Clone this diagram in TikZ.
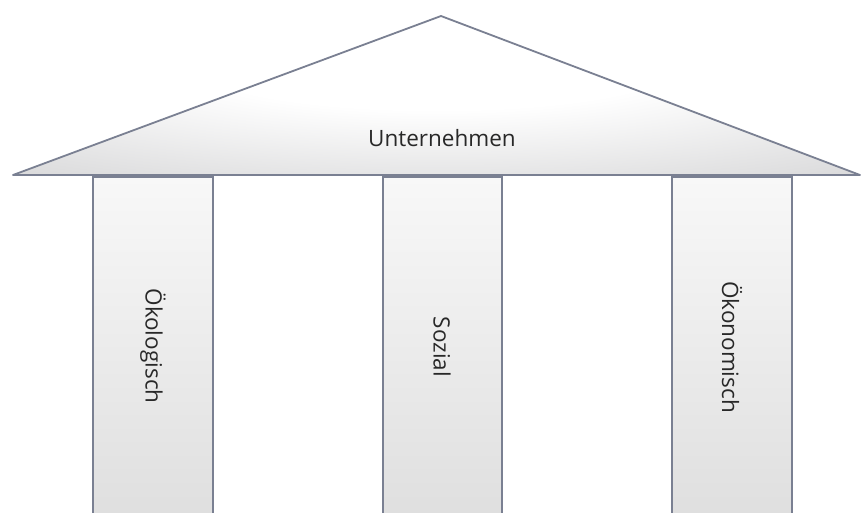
\documentclass[tikz,border=0pt]{standalone}
\usepackage{fontspec}
\setmainfont{Open Sans}
\definecolor{edgec}{RGB}{122,128,146}
\definecolor{txtc}{RGB}{40,40,40}
\definecolor{roofout}{RGB}{176,176,178}
\definecolor{roofmid}{RGB}{220,220,221}
\definecolor{piltop}{RGB}{248,248,248}
\definecolor{pilbot}{RGB}{222,222,222}
\pgfdeclareradialshading{roofshade}{\pgfpoint{0bp}{12bp}}{color(0bp)=(white); color(14bp)=(white); color(38bp)=(roofmid); color(70bp)=(roofout)}
\begin{document}
\begin{tikzpicture}[x=1pt,y=-1pt,
  roof/.style={draw=edgec, line width=1.8pt, line join=round, shading=roofshade},
  pillar/.style={draw=edgec, line width=1.8pt, top color=piltop, bottom color=pilbot},
  lbl/.style={text=txtc, font=\fontsize{22.5}{26}\selectfont, inner sep=0pt},
  vlbl/.style={lbl, rotate=-90}]
\useasboundingbox (0,0) rectangle (863,512);
\clip (0,0) rectangle (863,512);
\fill[white] (0,0) rectangle (863,512);
% pillars
\draw[pillar] (93,177) rectangle (213,530);
\draw[pillar] (383,177) rectangle (502,530);
\draw[pillar] (672,177) rectangle (792,530);
% roof
\draw[roof] (13,175) -- (441,16) -- (860,175) -- cycle;
\node[lbl] (roof) at (442,138) {Unternehmen};
\node[vlbl] (oeko) at (153,346) {Ökologisch};
\node[vlbl] (sozial) at (442,347) {Sozial};
\node[vlbl] (oekon) at (732,347) {Ökonomisch};
\end{tikzpicture}
\end{document}
